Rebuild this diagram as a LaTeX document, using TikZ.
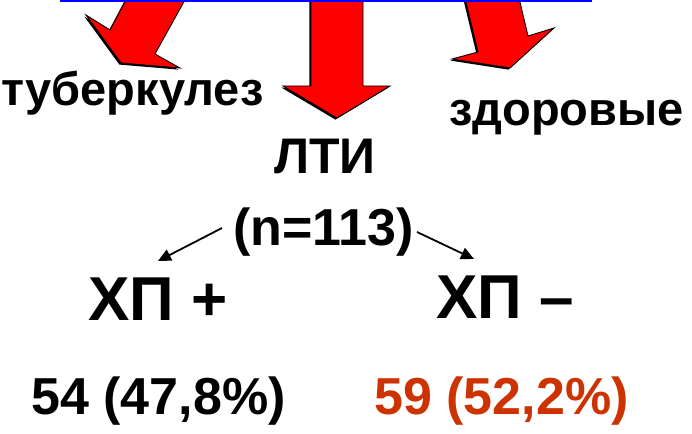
\documentclass[tikz,border=0pt]{standalone}
\usepackage{fontspec}
\setmainfont{Liberation Sans}
\newfontfamily\tf{Liberation Sans}
\usetikzlibrary{arrows.meta}
\definecolor{numred}{RGB}{204,51,0}
\tikzset{
  lbl/.style={inner sep=0pt, anchor=base, font=\tf\bfseries\fontsize{50}{54}\selectfont},
  big/.style={inner sep=0pt, anchor=base, font=\tf\bfseries\fontsize{62}{66}\selectfont},
  bigarrow/.style={fill=red, draw=black, line width=0.9pt, line join=miter},
  arrshadow/.style={fill=black},
  thinarrow/.style={draw=black, line width=1.8pt, -{Triangle[length=13pt,width=12pt]}},
  topline/.style={draw={rgb,255:red,0;green,0;blue,255}, line width=2.5pt}
}
\begin{document}
\begin{tikzpicture}[x=1pt,y=-1pt]
\useasboundingbox (0,0) rectangle (692,433);
% shadows
\fill[arrshadow,shift={(-1.6,1.6)}] (127,-2) -- (110,30) -- (86,15) -- (121,63) -- (180,68) -- (155,54) -- (186,-2) -- cycle;
\fill[arrshadow,shift={(-1.6,1.6)}] (311,-2) -- (311,86) -- (283,86) -- (337,118) -- (390,86) -- (363,86) -- (363,-2) -- cycle;
\fill[arrshadow,shift={(-1.6,1.6)}] (465,-2) -- (478,52) -- (452,59) -- (510,68) -- (554,28) -- (528,36) -- (519,-2) -- cycle;
% arrows
\path[bigarrow] (127,-2) -- (110,30) -- (86,15) -- (121,63) -- (180,68) -- (155,54) -- (186,-2) -- cycle;
\path[bigarrow] (311,-2) -- (311,86) -- (283,86) -- (337,118) -- (390,86) -- (363,86) -- (363,-2) -- cycle;
\path[bigarrow] (465,-2) -- (478,52) -- (452,59) -- (510,68) -- (554,28) -- (528,36) -- (519,-2) -- cycle;
% blue line
\coordinate (bl) at (60,1);
\coordinate (br) at (592,1);
\draw[topline] (bl) -- (br);
% labels
\node[lbl,font=\tf\bfseries\fontsize{47}{50}\selectfont] (tub) at (132.5,106) {туберкулез};
\node[lbl,font=\tf\bfseries\fontsize{47}{50}\selectfont] (zdo) at (566.5,125) {здоровые};
\node[lbl] (lti) at (325,173) {ЛТИ};
\node[lbl,font=\tf\bfseries\fontsize{52}{56}\selectfont] (n) at (323.5,245) {(n=113)};
\node[big] (hpp) at (158,320) {ХП +};
\node[big] (hpm) at (505,318) {ХП –};
\node[lbl,font=\tf\bfseries\fontsize{52}{56}\selectfont] (c1) at (158.5,414) {54 (47,8\%)};
\node[lbl,text=numred,font=\tf\bfseries\fontsize{52}{56}\selectfont] (c2) at (501.5,414) {59 (52,2\%)};
% small arrows
\coordinate (s1) at (222,228);
\coordinate (e1) at (158,261);
\coordinate (s2) at (417,232);
\coordinate (e2) at (474,259);
\draw[thinarrow] (s1) -- (e1);
\draw[thinarrow] (s2) -- (e2);
\end{tikzpicture}
\end{document}
